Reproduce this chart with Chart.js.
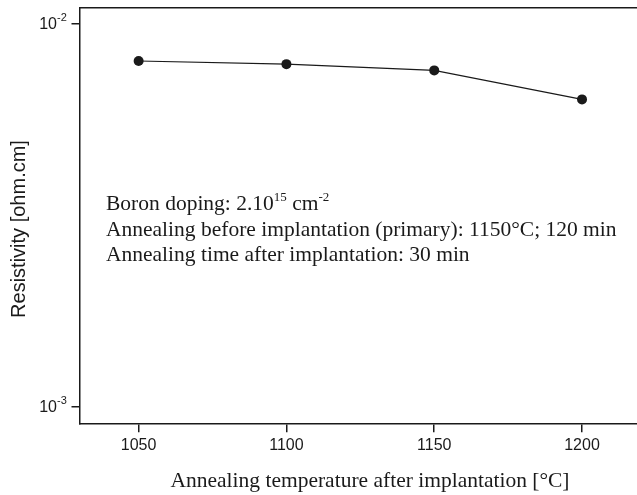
<!DOCTYPE html>
<html>
<head>
    <meta charset="UTF-8">
    <title>Resistivity vs annealing temperature</title>
    <script src="https://cdn.jsdelivr.net/npm/chart.js"></script>
    <style>
        body { margin: 0; padding: 0; background: #fff; }
        canvas { display: block; }
    </style>
</head>
<body>
    <canvas id="resChart" width="637" height="495"></canvas>

    <script>
        // data
        const temperatures = [1050, 1100, 1150, 1200];
        const resistivity = [0.00800, 0.00785, 0.00756, 0.00635];
        const xTicks = [1050, 1100, 1150, 1200];
        const yTicks = [1e-3, 1e-2];
        const yTickExp = ['-3', '-2'];

        const notes = [
            [['Boron doping: 2.10', 0], ['15', 1], [' cm', 0], ['-2', 1]],
            [['Annealing before implantation (primary): 1150°C; 120 min', 0]],
            [['Annealing time after implantation: 30 min', 0]]
        ];

        const ink = '#1a1a1a';
        const sans = '"Liberation Sans", Arial, sans-serif';
        const serif = '"Liberation Serif", "Times New Roman", serif';

        // y tick labels with exponents, axis titles and the text block
        const textPlugin = {
            id: 'textPlugin',
            afterDraw(chart) {
                const ctx = chart.ctx;
                const y = chart.scales.y;
                ctx.save();
                ctx.fillStyle = ink;

                yTicks.forEach((v, i) => {
                    const py = y.getPixelForValue(v);
                    ctx.font = '16px ' + sans;
                    ctx.textAlign = 'right';
                    ctx.textBaseline = 'middle';
                    ctx.fillText('10', 57, py + 1);
                    ctx.font = '11px ' + sans;
                    ctx.textAlign = 'left';
                    ctx.fillText(yTickExp[i], 57, py - 6);
                });

                // y title
                ctx.save();
                ctx.translate(25, 229);
                ctx.rotate(-Math.PI / 2);
                ctx.font = '20px ' + sans;
                ctx.textAlign = 'center';
                ctx.textBaseline = 'alphabetic';
                ctx.fillText('Resistivity [ohm.cm]', 0, 0);
                ctx.restore();

                // x title
                ctx.font = '21.5px ' + serif;
                ctx.textAlign = 'center';
                ctx.textBaseline = 'alphabetic';
                ctx.fillText('Annealing temperature after implantation [°C]', 370, 487);

                // notes
                ctx.textAlign = 'left';
                const baselines = [210, 236, 261];
                notes.forEach((parts, li) => {
                    let px = 106;
                    parts.forEach(([txt, sup]) => {
                        ctx.font = (sup ? '13px ' : '21.5px ') + serif;
                        ctx.fillText(txt, px, baselines[li] - (sup ? 9 : 0));
                        px += ctx.measureText(txt).width;
                    });
                });
                ctx.restore();
            }
        };

        new Chart(document.getElementById('resChart'), {
            type: 'line',
            data: {
                datasets: [{
                    data: temperatures.map((t, i) => ({ x: t, y: resistivity[i] })),
                    borderColor: ink,
                    borderWidth: 1.2,
                    backgroundColor: ink,
                    pointRadius: 5,
                    pointHoverRadius: 5,
                    pointBorderWidth: 0,
                    tension: 0
                }]
            },
            options: {
                responsive: false,
                animation: false,
                events: [],
                layout: { autoPadding: false, padding: 0 },
                plugins: { legend: { display: false }, tooltip: { enabled: false } },
                scales: {
                    x: {
                        type: 'linear',
                        position: 'bottom',
                        min: 1030,
                        max: 1218.6,
                        afterBuildTicks: (s) => { s.ticks = xTicks.map(v => ({ value: v })); },
                        afterFit: (s) => { s.height = 495 - 423.3; },
                        ticks: {
                            color: ink, font: { family: sans, size: 16 }, padding: 4, maxRotation: 0,
                            callback: (v) => String(v)
                        },
                        grid: { drawOnChartArea: false, drawTicks: true, tickLength: 9, color: ink, lineWidth: 1.5 },
                        border: { display: true, color: ink, width: 1.5 }
                    },
                    x2: {
                        type: 'linear',
                        position: 'top',
                        min: 1030,
                        max: 1218.6,
                        afterFit: (s) => { s.height = 7.3; },
                        ticks: { display: false },
                        grid: { display: false },
                        border: { display: true, color: ink, width: 1.5 }
                    },
                    y: {
                        type: 'logarithmic',
                        min: 0.000905,
                        max: 0.01105,
                        afterBuildTicks: (s) => { s.ticks = yTicks.map(v => ({ value: v })); },
                        afterFit: (s) => { s.width = 79.5; },
                        ticks: { display: false },
                        grid: { drawOnChartArea: false, drawTicks: true, tickLength: 8, color: ink, lineWidth: 1.5 },
                        border: { display: true, color: ink, width: 1.5 }
                    }
                }
            },
            plugins: [textPlugin]
        });
    </script>
</body>
</html>
